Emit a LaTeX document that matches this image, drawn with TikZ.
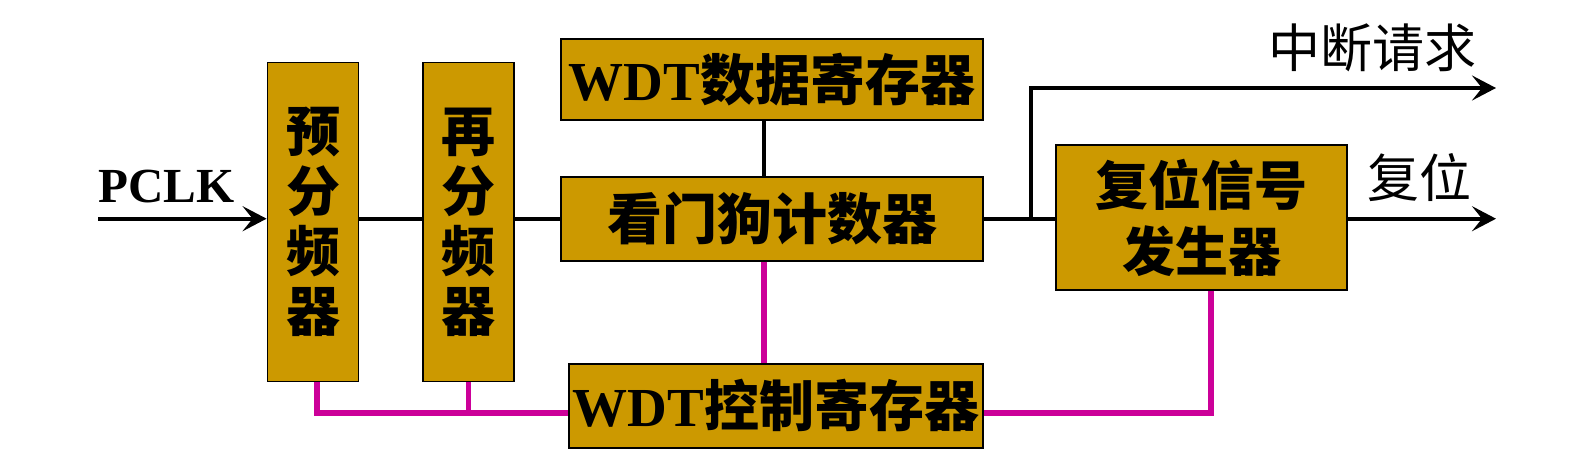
\documentclass[tikz,border=0pt]{standalone}
\usepackage{fontspec}
\setmainfont{Liberation Serif}
\newfontfamily\cjk{Noto Sans CJK SC}
\usetikzlibrary{arrows.meta,positioning}
\definecolor{boxgold}{HTML}{CC9900}
\definecolor{ctrlpink}{HTML}{CC0099}
\newcommand{\zh}[1]{{\cjk\bfseries #1}}
\begin{document}
\begin{tikzpicture}[
  x=1pt, y=-1pt,
  blk/.style={draw,line width=1.8pt,fill=boxgold,inner sep=0pt,align=center,font=\fontsize{55}{60}\selectfont\bfseries},
  sig/.style={line width=4.2pt},
  ctl/.style={line width=5.4pt,draw=ctrlpink},
  arr/.style={-{Stealth[length=24pt,width=25pt,inset=10pt]}},
  lbl/.style={inner sep=0pt,font=\fontsize{52}{52}\selectfont\cjk}
]
\useasboundingbox (0,0) rectangle (1588,466);
\node[blk,minimum width=91pt,minimum height=319pt,font=\fontsize{54}{60}\selectfont] (pre) at (313,222) {\zh{预}\\\zh{分}\\\zh{频}\\\zh{器}};
\node[blk,minimum width=91pt,minimum height=319pt,font=\fontsize{54}{60}\selectfont] (re) at (468.5,222) {\zh{再}\\\zh{分}\\\zh{频}\\\zh{器}};
\node[blk,minimum width=422pt,minimum height=81pt] (dat) at (772,79.5) {WDT\zh{数据寄存器}};
\node[blk,minimum width=422pt,minimum height=84pt] (cnt) at (772,218.7) {\zh{看门狗计数器}};
\node[blk,minimum width=414pt,minimum height=84pt] (reg) at (776,405.8) {WDT\zh{控制寄存器}};
\node[blk,minimum width=291pt,minimum height=145pt,font=\fontsize{53}{66}\selectfont] (rst) at (1201.5,217.5) {\zh{复位信号}\\\zh{发生器}};
\node[inner sep=0pt,anchor=base west,font=\fontsize{49}{49}\selectfont\bfseries] (pclk) at (98,202) {PCLK};
\node[lbl] (irqtxt) at (1372,48) {中断请求};
\node[lbl] (rsttxt) at (1419,178) {复位};
\coordinate (pclkin) at (98,218.7);
\coordinate (irq) at (1496,88);
\coordinate (rstout) at (1496,218.7);
\coordinate (tap) at (1031,0);
\coordinate (mid) at (764,0);
\coordinate (pretap) at (317,0);
\coordinate (bus) at (0,413);
\coordinate (rsttap) at (1211,0);
\draw[sig,arr] (pclkin) -- (pclkin -| pre.west);
\draw[sig] (pre.east |- cnt) -- (re.west |- cnt);
\draw[sig] (re.east |- cnt) -- (cnt.west);
\draw[sig] (cnt.east) -- (cnt.east -| rst.west);
\draw[sig] (dat.south -| mid) -- (cnt.north -| mid);
\draw[sig,arr] (tap |- cnt) |- (irq);
\draw[sig,arr] (rst.east |- cnt) -- (rstout);
\draw[ctl] (pre.south -| pretap) |- (bus -| reg.west);
\draw[ctl] (re.south) -- (re.south |- bus);
\draw[ctl] (cnt.south -| mid) -- (reg.north -| mid);
\draw[ctl] (rst.south -| rsttap) |- (bus -| reg.east);
\end{tikzpicture}
\end{document}
